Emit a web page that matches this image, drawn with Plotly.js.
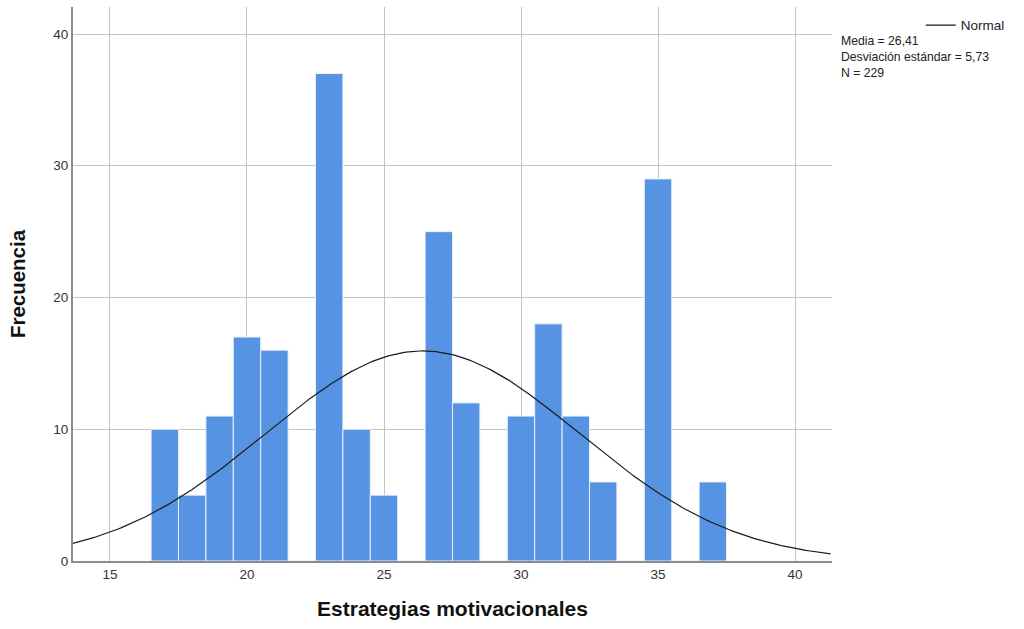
<!DOCTYPE html>
<html>
<head>
<meta charset="utf-8">
<script src="https://cdn.plot.ly/plotly-3.0.1.min.js"></script>
<style>html,body{margin:0;padding:0;background:#fff;}</style>
</head>
<body>
<div id="chart" style="width:1024px;height:629px;"></div>
<script>
// Histogram bins (centre values) and frequencies
const binCentres = [17, 18, 19, 20, 21, 22, 23, 24, 25, 26, 27, 28, 29, 30, 31, 32, 33, 34, 35, 36, 37];
const frequencies = [10, 5, 11, 17, 16, 0, 37, 10, 5, 0, 25, 12, 0, 11, 18, 11, 6, 0, 29, 0, 6];
// Summary statistics shown in the chart
const mean = 26.41;
const sd = 5.73;
const n = 229;
const binWidth = 1;
const xTicks = [15, 20, 25, 30, 35, 40];
const yTicks = [0, 10, 20, 30, 40];

// Normal curve fitted from the summary statistics
const curveX = [];
const curveY = [];
for (let x = 13.6; x <= 41.4; x += 0.1) {
  curveX.push(x);
  curveY.push(n * binWidth * Math.exp(-0.5 * Math.pow((x - mean) / sd, 2)) / (sd * Math.sqrt(2 * Math.PI)));
}

const traces = [
  {
    type: 'bar',
    x: binCentres,
    y: frequencies,
    width: binWidth,
    marker: {color: '#5694e3', line: {color: '#e8f0fb', width: 1}},
    showlegend: false,
    hoverinfo: 'x+y'
  },
  {
    type: 'scatter',
    mode: 'lines',
    x: curveX,
    y: curveY,
    name: 'Normal',
    line: {color: '#1a1a1a', width: 1.2},
    showlegend: true
  }
];

const layout = {
  width: 1024,
  height: 629,
  margin: {l: 73, r: 192, t: 7, b: 68},
  paper_bgcolor: '#ffffff',
  plot_bgcolor: '#ffffff',
  font: {family: 'Liberation Sans, Arial, sans-serif', color: '#222', size: 13},
  bargap: 0,
  xaxis: {
    range: [13.65, 41.35],
    tickvals: xTicks,
    ticktext: xTicks.map(String),
    showgrid: true,
    gridcolor: '#c4c4c4',
    gridwidth: 1,
    zeroline: false,
    showline: true,
    linecolor: '#8c8c8c',
    linewidth: 2,
    ticks: '',
    tickfont: {size: 13.5, color: '#333'},
    title: {text: 'Estrategias motivacionales', font: {size: 21, color: '#111', weight: 'bold'}, standoff: 20}
  },
  yaxis: {
    range: [0, 42.05],
    tickvals: yTicks,
    ticktext: yTicks.map(String),
    showgrid: true,
    gridcolor: '#c4c4c4',
    gridwidth: 1,
    zeroline: false,
    showline: true,
    linecolor: '#8c8c8c',
    linewidth: 2,
    ticks: '',
    tickfont: {size: 13.5, color: '#333'},
    title: {text: 'Frecuencia', font: {size: 20.5, color: '#111', weight: 'bold'}, standoff: 22}
  },
  legend: {
    x: 1.117,
    xanchor: 'left',
    y: 0.995,
    yanchor: 'top',
    bgcolor: 'rgba(0,0,0,0)',
    font: {size: 13.5, color: '#222'},
    itemwidth: 30
  },
  annotations: [
    {
      xref: 'paper', yref: 'paper',
      x: 1.009, y: 0.955,
      xanchor: 'left', yanchor: 'top',
      align: 'left',
      showarrow: false,
      text: 'Media = 26,41<br>Desviación estándar = 5,73<br>N = 229',
      font: {size: 12.2, color: '#222'}
    }
  ]
};

Plotly.newPlot('chart', traces, layout, {displayModeBar: false, staticPlot: true});
</script>
</body>
</html>
